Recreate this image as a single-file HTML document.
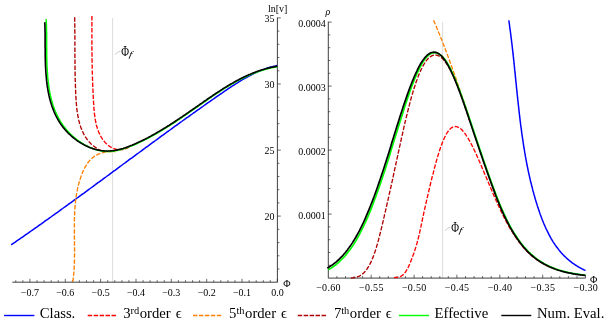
<!DOCTYPE html>
<html><head><meta charset="utf-8"><title>plot</title>
<style>
html,body{margin:0;padding:0;background:#fff;}
svg{display:block;font-family:"Liberation Serif",serif;will-change:transform;}
.t text{font-size:10px;fill:#000;}
.lg text{font-size:14.7px;fill:#000;}
.lb text{fill:#000;}
</style></head><body>
<svg width="610" height="326" viewBox="0 0 610 326">
<rect width="610" height="326" fill="#fff"/>
<g><line x1="112.6" y1="17.9" x2="112.6" y2="282.2" stroke="#d2d2d2" stroke-width="0.8"/><line x1="442.6" y1="22.1" x2="442.6" y2="278.1" stroke="#d2d2d2" stroke-width="0.8"/><path d="M115.0,54.7 C117,52.2 118.5,51.6 120.3,51.4" fill="none" stroke="#b0b0b0" stroke-width="0.7"/><path d="M445.0,230.7 C447,228.2 448.5,227.6 450.3,227.4" fill="none" stroke="#b0b0b0" stroke-width="0.7"/></g>
<g><line x1="12.3" y1="282.2" x2="277.4" y2="282.2" stroke="#2a2a2a" stroke-width="0.9"/><line x1="277.4" y1="282.2" x2="277.4" y2="17.5" stroke="#2a2a2a" stroke-width="0.9"/><line x1="15.8" y1="282.2" x2="15.8" y2="280.2" stroke="#2a2a2a" stroke-width="0.7"/><line x1="22.9" y1="282.2" x2="22.9" y2="280.2" stroke="#2a2a2a" stroke-width="0.7"/><line x1="29.9" y1="282.2" x2="29.9" y2="278.8" stroke="#2a2a2a" stroke-width="0.7"/><line x1="37.0" y1="282.2" x2="37.0" y2="280.2" stroke="#2a2a2a" stroke-width="0.7"/><line x1="44.1" y1="282.2" x2="44.1" y2="280.2" stroke="#2a2a2a" stroke-width="0.7"/><line x1="51.2" y1="282.2" x2="51.2" y2="280.2" stroke="#2a2a2a" stroke-width="0.7"/><line x1="58.2" y1="282.2" x2="58.2" y2="280.2" stroke="#2a2a2a" stroke-width="0.7"/><line x1="65.3" y1="282.2" x2="65.3" y2="278.8" stroke="#2a2a2a" stroke-width="0.7"/><line x1="72.4" y1="282.2" x2="72.4" y2="280.2" stroke="#2a2a2a" stroke-width="0.7"/><line x1="79.4" y1="282.2" x2="79.4" y2="280.2" stroke="#2a2a2a" stroke-width="0.7"/><line x1="86.5" y1="282.2" x2="86.5" y2="280.2" stroke="#2a2a2a" stroke-width="0.7"/><line x1="93.6" y1="282.2" x2="93.6" y2="280.2" stroke="#2a2a2a" stroke-width="0.7"/><line x1="100.6" y1="282.2" x2="100.6" y2="278.8" stroke="#2a2a2a" stroke-width="0.7"/><line x1="107.7" y1="282.2" x2="107.7" y2="280.2" stroke="#2a2a2a" stroke-width="0.7"/><line x1="114.8" y1="282.2" x2="114.8" y2="280.2" stroke="#2a2a2a" stroke-width="0.7"/><line x1="121.9" y1="282.2" x2="121.9" y2="280.2" stroke="#2a2a2a" stroke-width="0.7"/><line x1="128.9" y1="282.2" x2="128.9" y2="280.2" stroke="#2a2a2a" stroke-width="0.7"/><line x1="136.0" y1="282.2" x2="136.0" y2="278.8" stroke="#2a2a2a" stroke-width="0.7"/><line x1="143.1" y1="282.2" x2="143.1" y2="280.2" stroke="#2a2a2a" stroke-width="0.7"/><line x1="150.1" y1="282.2" x2="150.1" y2="280.2" stroke="#2a2a2a" stroke-width="0.7"/><line x1="157.2" y1="282.2" x2="157.2" y2="280.2" stroke="#2a2a2a" stroke-width="0.7"/><line x1="164.3" y1="282.2" x2="164.3" y2="280.2" stroke="#2a2a2a" stroke-width="0.7"/><line x1="171.3" y1="282.2" x2="171.3" y2="278.8" stroke="#2a2a2a" stroke-width="0.7"/><line x1="178.4" y1="282.2" x2="178.4" y2="280.2" stroke="#2a2a2a" stroke-width="0.7"/><line x1="185.5" y1="282.2" x2="185.5" y2="280.2" stroke="#2a2a2a" stroke-width="0.7"/><line x1="192.6" y1="282.2" x2="192.6" y2="280.2" stroke="#2a2a2a" stroke-width="0.7"/><line x1="199.6" y1="282.2" x2="199.6" y2="280.2" stroke="#2a2a2a" stroke-width="0.7"/><line x1="206.7" y1="282.2" x2="206.7" y2="278.8" stroke="#2a2a2a" stroke-width="0.7"/><line x1="213.8" y1="282.2" x2="213.8" y2="280.2" stroke="#2a2a2a" stroke-width="0.7"/><line x1="220.8" y1="282.2" x2="220.8" y2="280.2" stroke="#2a2a2a" stroke-width="0.7"/><line x1="227.9" y1="282.2" x2="227.9" y2="280.2" stroke="#2a2a2a" stroke-width="0.7"/><line x1="235.0" y1="282.2" x2="235.0" y2="280.2" stroke="#2a2a2a" stroke-width="0.7"/><line x1="242.0" y1="282.2" x2="242.0" y2="278.8" stroke="#2a2a2a" stroke-width="0.7"/><line x1="249.1" y1="282.2" x2="249.1" y2="280.2" stroke="#2a2a2a" stroke-width="0.7"/><line x1="256.2" y1="282.2" x2="256.2" y2="280.2" stroke="#2a2a2a" stroke-width="0.7"/><line x1="263.3" y1="282.2" x2="263.3" y2="280.2" stroke="#2a2a2a" stroke-width="0.7"/><line x1="270.3" y1="282.2" x2="270.3" y2="280.2" stroke="#2a2a2a" stroke-width="0.7"/><line x1="277.4" y1="282.2" x2="277.4" y2="278.8" stroke="#2a2a2a" stroke-width="0.7"/><line x1="277.4" y1="269.0" x2="279.4" y2="269.0" stroke="#2a2a2a" stroke-width="0.7"/><line x1="277.4" y1="255.8" x2="279.4" y2="255.8" stroke="#2a2a2a" stroke-width="0.7"/><line x1="277.4" y1="242.6" x2="279.4" y2="242.6" stroke="#2a2a2a" stroke-width="0.7"/><line x1="277.4" y1="229.3" x2="279.4" y2="229.3" stroke="#2a2a2a" stroke-width="0.7"/><line x1="277.4" y1="216.1" x2="280.8" y2="216.1" stroke="#2a2a2a" stroke-width="0.7"/><line x1="277.4" y1="202.9" x2="279.4" y2="202.9" stroke="#2a2a2a" stroke-width="0.7"/><line x1="277.4" y1="189.7" x2="279.4" y2="189.7" stroke="#2a2a2a" stroke-width="0.7"/><line x1="277.4" y1="176.5" x2="279.4" y2="176.5" stroke="#2a2a2a" stroke-width="0.7"/><line x1="277.4" y1="163.3" x2="279.4" y2="163.3" stroke="#2a2a2a" stroke-width="0.7"/><line x1="277.4" y1="150.1" x2="280.8" y2="150.1" stroke="#2a2a2a" stroke-width="0.7"/><line x1="277.4" y1="136.8" x2="279.4" y2="136.8" stroke="#2a2a2a" stroke-width="0.7"/><line x1="277.4" y1="123.6" x2="279.4" y2="123.6" stroke="#2a2a2a" stroke-width="0.7"/><line x1="277.4" y1="110.4" x2="279.4" y2="110.4" stroke="#2a2a2a" stroke-width="0.7"/><line x1="277.4" y1="97.2" x2="279.4" y2="97.2" stroke="#2a2a2a" stroke-width="0.7"/><line x1="277.4" y1="84.0" x2="280.8" y2="84.0" stroke="#2a2a2a" stroke-width="0.7"/><line x1="277.4" y1="70.8" x2="279.4" y2="70.8" stroke="#2a2a2a" stroke-width="0.7"/><line x1="277.4" y1="57.5" x2="279.4" y2="57.5" stroke="#2a2a2a" stroke-width="0.7"/><line x1="277.4" y1="44.3" x2="279.4" y2="44.3" stroke="#2a2a2a" stroke-width="0.7"/><line x1="277.4" y1="31.1" x2="279.4" y2="31.1" stroke="#2a2a2a" stroke-width="0.7"/><line x1="277.4" y1="17.9" x2="280.8" y2="17.9" stroke="#2a2a2a" stroke-width="0.7"/><line x1="328.3" y1="278.1" x2="585.5" y2="278.1" stroke="#2a2a2a" stroke-width="0.9"/><line x1="328.3" y1="278.1" x2="328.3" y2="21.7" stroke="#2a2a2a" stroke-width="0.9"/><line x1="336.9" y1="278.1" x2="336.9" y2="276.1" stroke="#2a2a2a" stroke-width="0.7"/><line x1="345.5" y1="278.1" x2="345.5" y2="276.1" stroke="#2a2a2a" stroke-width="0.7"/><line x1="354.0" y1="278.1" x2="354.0" y2="276.1" stroke="#2a2a2a" stroke-width="0.7"/><line x1="362.6" y1="278.1" x2="362.6" y2="276.1" stroke="#2a2a2a" stroke-width="0.7"/><line x1="371.2" y1="278.1" x2="371.2" y2="274.7" stroke="#2a2a2a" stroke-width="0.7"/><line x1="379.7" y1="278.1" x2="379.7" y2="276.1" stroke="#2a2a2a" stroke-width="0.7"/><line x1="388.3" y1="278.1" x2="388.3" y2="276.1" stroke="#2a2a2a" stroke-width="0.7"/><line x1="396.9" y1="278.1" x2="396.9" y2="276.1" stroke="#2a2a2a" stroke-width="0.7"/><line x1="405.5" y1="278.1" x2="405.5" y2="276.1" stroke="#2a2a2a" stroke-width="0.7"/><line x1="414.1" y1="278.1" x2="414.1" y2="274.7" stroke="#2a2a2a" stroke-width="0.7"/><line x1="422.6" y1="278.1" x2="422.6" y2="276.1" stroke="#2a2a2a" stroke-width="0.7"/><line x1="431.2" y1="278.1" x2="431.2" y2="276.1" stroke="#2a2a2a" stroke-width="0.7"/><line x1="439.8" y1="278.1" x2="439.8" y2="276.1" stroke="#2a2a2a" stroke-width="0.7"/><line x1="448.3" y1="278.1" x2="448.3" y2="276.1" stroke="#2a2a2a" stroke-width="0.7"/><line x1="456.9" y1="278.1" x2="456.9" y2="274.7" stroke="#2a2a2a" stroke-width="0.7"/><line x1="465.5" y1="278.1" x2="465.5" y2="276.1" stroke="#2a2a2a" stroke-width="0.7"/><line x1="474.1" y1="278.1" x2="474.1" y2="276.1" stroke="#2a2a2a" stroke-width="0.7"/><line x1="482.6" y1="278.1" x2="482.6" y2="276.1" stroke="#2a2a2a" stroke-width="0.7"/><line x1="491.2" y1="278.1" x2="491.2" y2="276.1" stroke="#2a2a2a" stroke-width="0.7"/><line x1="499.8" y1="278.1" x2="499.8" y2="274.7" stroke="#2a2a2a" stroke-width="0.7"/><line x1="508.4" y1="278.1" x2="508.4" y2="276.1" stroke="#2a2a2a" stroke-width="0.7"/><line x1="517.0" y1="278.1" x2="517.0" y2="276.1" stroke="#2a2a2a" stroke-width="0.7"/><line x1="525.5" y1="278.1" x2="525.5" y2="276.1" stroke="#2a2a2a" stroke-width="0.7"/><line x1="534.1" y1="278.1" x2="534.1" y2="276.1" stroke="#2a2a2a" stroke-width="0.7"/><line x1="542.7" y1="278.1" x2="542.7" y2="274.7" stroke="#2a2a2a" stroke-width="0.7"/><line x1="551.2" y1="278.1" x2="551.2" y2="276.1" stroke="#2a2a2a" stroke-width="0.7"/><line x1="559.8" y1="278.1" x2="559.8" y2="276.1" stroke="#2a2a2a" stroke-width="0.7"/><line x1="568.4" y1="278.1" x2="568.4" y2="276.1" stroke="#2a2a2a" stroke-width="0.7"/><line x1="577.0" y1="278.1" x2="577.0" y2="276.1" stroke="#2a2a2a" stroke-width="0.7"/><line x1="585.5" y1="278.1" x2="585.5" y2="274.7" stroke="#2a2a2a" stroke-width="0.7"/><line x1="328.3" y1="265.3" x2="330.3" y2="265.3" stroke="#2a2a2a" stroke-width="0.7"/><line x1="328.3" y1="252.5" x2="330.3" y2="252.5" stroke="#2a2a2a" stroke-width="0.7"/><line x1="328.3" y1="239.7" x2="330.3" y2="239.7" stroke="#2a2a2a" stroke-width="0.7"/><line x1="328.3" y1="226.9" x2="330.3" y2="226.9" stroke="#2a2a2a" stroke-width="0.7"/><line x1="328.3" y1="214.1" x2="331.7" y2="214.1" stroke="#2a2a2a" stroke-width="0.7"/><line x1="328.3" y1="201.3" x2="330.3" y2="201.3" stroke="#2a2a2a" stroke-width="0.7"/><line x1="328.3" y1="188.5" x2="330.3" y2="188.5" stroke="#2a2a2a" stroke-width="0.7"/><line x1="328.3" y1="175.7" x2="330.3" y2="175.7" stroke="#2a2a2a" stroke-width="0.7"/><line x1="328.3" y1="162.9" x2="330.3" y2="162.9" stroke="#2a2a2a" stroke-width="0.7"/><line x1="328.3" y1="150.1" x2="331.7" y2="150.1" stroke="#2a2a2a" stroke-width="0.7"/><line x1="328.3" y1="137.3" x2="330.3" y2="137.3" stroke="#2a2a2a" stroke-width="0.7"/><line x1="328.3" y1="124.5" x2="330.3" y2="124.5" stroke="#2a2a2a" stroke-width="0.7"/><line x1="328.3" y1="111.7" x2="330.3" y2="111.7" stroke="#2a2a2a" stroke-width="0.7"/><line x1="328.3" y1="98.9" x2="330.3" y2="98.9" stroke="#2a2a2a" stroke-width="0.7"/><line x1="328.3" y1="86.1" x2="331.7" y2="86.1" stroke="#2a2a2a" stroke-width="0.7"/><line x1="328.3" y1="73.3" x2="330.3" y2="73.3" stroke="#2a2a2a" stroke-width="0.7"/><line x1="328.3" y1="60.5" x2="330.3" y2="60.5" stroke="#2a2a2a" stroke-width="0.7"/><line x1="328.3" y1="47.7" x2="330.3" y2="47.7" stroke="#2a2a2a" stroke-width="0.7"/><line x1="328.3" y1="34.9" x2="330.3" y2="34.9" stroke="#2a2a2a" stroke-width="0.7"/><line x1="328.3" y1="22.1" x2="331.7" y2="22.1" stroke="#2a2a2a" stroke-width="0.7"/></g>
<g class="left">
<path d="M11.2,244.8 L12.5,243.9 L13.9,243.0 L15.2,242.1 L16.5,241.2 L17.9,240.2 L19.2,239.3 L20.5,238.4 L21.8,237.5 L23.2,236.6 L24.5,235.6 L25.8,234.7 L27.1,233.8 L28.5,232.9 L29.8,231.9 L31.1,231.0 L32.4,230.1 L33.8,229.2 L35.1,228.2 L36.4,227.3 L37.7,226.4 L39.0,225.4 L40.4,224.5 L41.7,223.6 L43.0,222.6 L44.3,221.7 L45.6,220.7 L46.9,219.8 L48.3,218.9 L49.6,217.9 L50.9,217.0 L52.2,216.0 L53.5,215.1 L54.8,214.2 L56.2,213.2 L57.5,212.3 L58.8,211.3 L60.1,210.4 L61.4,209.4 L62.7,208.5 L64.0,207.5 L65.3,206.6 L66.7,205.6 L68.0,204.7 L69.3,203.7 L70.6,202.8 L71.9,201.8 L73.2,200.9 L74.5,199.9 L75.8,199.0 L77.1,198.0 L78.4,197.1 L79.7,196.1 L81.1,195.2 L82.4,194.2 L83.7,193.3 L85.0,192.3 L86.3,191.4 L87.6,190.4 L88.9,189.4 L90.2,188.5 L91.5,187.5 L92.8,186.6 L94.1,185.6 L95.4,184.7 L96.7,183.7 L98.0,182.7 L99.3,181.8 L100.6,180.8 L102.0,179.9 L103.3,178.9 L104.6,177.9 L105.9,177.0 L107.2,176.0 L108.5,175.1 L109.8,174.1 L111.1,173.1 L112.4,172.2 L113.7,171.2 L115.0,170.3 L116.3,169.3 L117.6,168.3 L118.9,167.4 L120.2,166.4 L121.5,165.5 L122.8,164.5 L124.1,163.5 L125.4,162.6 L126.7,161.6 L128.0,160.7 L129.3,159.7 L130.6,158.7 L132.0,157.8 L133.3,156.8 L134.6,155.9 L135.9,154.9 L137.2,153.9 L138.5,153.0 L139.8,152.0 L141.1,151.1 L142.4,150.1 L143.7,149.1 L145.0,148.2 L146.3,147.2 L147.6,146.3 L148.9,145.3 L150.2,144.3 L151.5,143.4 L152.8,142.4 L154.2,141.5 L155.5,140.5 L156.8,139.6 L158.1,138.6 L159.4,137.7 L160.7,136.7 L162.0,135.7 L163.3,134.8 L164.6,133.8 L165.9,132.9 L167.2,131.9 L168.6,131.0 L169.9,130.0 L171.2,129.1 L172.5,128.1 L173.8,127.2 L175.1,126.2 L176.4,125.3 L177.7,124.3 L179.1,123.4 L180.4,122.4 L181.7,121.5 L183.0,120.5 L184.3,119.6 L185.6,118.7 L186.9,117.7 L188.3,116.8 L189.6,115.8 L190.9,114.9 L192.2,114.0 L193.5,113.0 L194.9,112.1 L196.2,111.1 L197.5,110.2 L198.8,109.3 L200.1,108.3 L201.5,107.4 L202.8,106.5 L204.1,105.5 L205.4,104.6 L206.7,103.7 L208.1,102.7 L209.4,101.8 L210.7,100.9 L212.1,99.9 L213.4,99.0 L214.7,98.1 L216.0,97.2 L217.4,96.2 L218.7,95.3 L220.0,94.4 L221.4,93.5 L222.7,92.6 L224.0,91.6 L225.4,90.7 L226.7,89.8 L228.0,88.9 L229.4,88.0 L230.7,87.1 L232.1,86.2 L233.4,85.4 L234.8,84.5 L236.1,83.6 L237.5,82.8 L238.9,81.9 L240.2,81.1 L241.6,80.2 L243.0,79.4 L244.4,78.6 L245.8,77.8 L247.2,77.1 L248.6,76.3 L250.0,75.6 L251.4,74.8 L252.9,74.1 L254.3,73.4 L255.7,72.7 L257.2,72.1 L258.7,71.4 L260.2,70.8 L261.6,70.2 L263.1,69.6 L264.6,69.1 L266.2,68.5 L267.7,68.0 L269.2,67.5 L270.8,67.1 L272.4,66.6 L273.9,66.2 L275.5,65.9 L277.1,65.5" fill="none" stroke="#0000ff" stroke-width="1.5" stroke-linejoin="round"/>
<path d="M91.9,16.0 L91.9,16.8 L91.9,17.6 L91.9,18.4 L91.9,19.2 L91.9,20.1 L91.9,20.9 L91.9,21.7 L91.9,22.5 L91.9,23.3 L91.9,24.1 L91.9,24.9 L91.9,25.7 L91.9,26.5 L91.9,27.3 L91.9,28.1 L91.9,28.9 L91.9,29.7 L91.9,30.5 L91.9,31.3 L91.9,32.1 L91.9,32.9 L91.9,33.7 L91.9,34.5 L91.9,35.3 L91.9,36.1 L91.9,36.9 L91.9,37.6 L91.9,38.4 L91.9,39.2 L91.9,40.0 L91.9,40.8 L91.9,41.6 L91.9,42.3 L91.9,43.1 L91.9,43.9 L91.9,44.7 L91.9,45.5 L91.9,46.2 L91.9,47.0 L91.9,47.8 L91.9,48.6 L91.9,49.3 L91.9,50.1 L91.9,50.9 L91.9,51.7 L91.9,52.4 L92.0,53.2 L92.0,54.0 L92.0,54.8 L92.0,55.5 L92.0,56.3 L92.0,57.1 L92.0,57.8 L92.0,58.6 L92.0,59.4 L92.1,60.2 L92.1,60.9 L92.1,61.7 L92.1,62.5 L92.1,63.2 L92.1,64.0 L92.1,64.8 L92.2,65.6 L92.2,66.3 L92.2,67.1 L92.2,67.9 L92.2,68.6 L92.2,69.4 L92.3,70.2 L92.3,71.0 L92.3,71.7 L92.3,72.5 L92.3,73.3 L92.4,74.1 L92.4,74.8 L92.4,75.6 L92.4,76.4 L92.5,77.2 L92.5,77.9 L92.5,78.7 L92.5,79.5 L92.6,80.3 L92.6,81.1 L92.6,81.9 L92.6,82.6 L92.7,83.4 L92.7,84.2 L92.7,85.0 L92.8,85.8 L92.8,86.6 L92.8,87.4 L92.9,88.2 L92.9,88.9 L92.9,89.7 L93.0,90.5 L93.0,91.3 L93.0,92.1 L93.1,92.9 L93.1,93.7 L93.1,94.5 L93.2,95.3 L93.2,96.1 L93.3,96.9 L93.3,97.8 L93.3,98.6 L93.4,99.4 L93.4,100.2 L93.5,101.0 L93.5,101.8 L93.6,102.6 L93.6,103.4 L93.7,104.3 L93.7,105.1 L93.8,105.9 L93.8,106.7 L93.9,107.5 L93.9,108.4 L94.0,109.2 L94.1,110.0 L94.2,110.8 L94.2,111.6 L94.3,112.4 L94.4,113.2 L94.5,114.1 L94.6,114.9 L94.7,115.7 L94.8,116.5 L94.9,117.3 L95.0,118.1 L95.2,118.9 L95.3,119.7 L95.4,120.4 L95.6,121.2 L95.7,122.0 L95.9,122.8 L96.1,123.5 L96.3,124.3 L96.4,125.1 L96.6,125.8 L96.8,126.6 L97.1,127.3 L97.3,128.1 L97.5,128.8 L97.8,129.5 L98.0,130.2 L98.3,131.0 L98.6,131.7 L98.8,132.4 L99.1,133.0 L99.4,133.7 L99.8,134.4 L100.1,135.1 L100.4,135.7 L100.8,136.4 L101.2,137.0 L101.6,137.7 L102.0,138.3 L102.4,138.9 L102.8,139.5 L103.2,140.1 L103.7,140.7 L104.2,141.3 L104.6,141.8 L105.1,142.4 L105.7,142.9 L106.2,143.5 L106.7,144.0 L107.3,144.5 L107.9,145.0 L108.5,145.5 L109.1,145.9 L109.7,146.4 L110.3,146.8 L111.0,147.2 L111.6,147.6 L112.3,147.9 L113.0,148.2 L113.7,148.5 L114.4,148.8 L115.1,149.0 L115.8,149.2 L116.6,149.4 L117.3,149.5 L118.1,149.6 L118.9,149.7 L119.7,149.7 L120.4,149.7 L121.2,149.7 L122.0,149.6 L122.8,149.5 L123.7,149.3 L124.5,149.1 L125.3,148.8 L126.1,148.5 L126.9,148.2 L127.7,147.8 L128.6,147.4 L129.4,146.9 L130.2,146.3" fill="none" stroke="#ff0000" stroke-width="1.35" stroke-dasharray="4.45 1.6" stroke-linejoin="round"/>
<path d="M72.8,281.9 L72.9,281.1 L73.0,280.4 L73.1,279.6 L73.2,278.9 L73.3,278.2 L73.4,277.4 L73.4,276.7 L73.5,275.9 L73.6,275.2 L73.7,274.4 L73.7,273.7 L73.8,272.9 L73.9,272.2 L73.9,271.4 L74.0,270.7 L74.0,269.9 L74.1,269.2 L74.1,268.4 L74.2,267.6 L74.2,266.9 L74.3,266.1 L74.3,265.4 L74.3,264.6 L74.4,263.8 L74.4,263.1 L74.4,262.3 L74.4,261.6 L74.4,260.8 L74.5,260.0 L74.5,259.3 L74.5,258.5 L74.5,257.7 L74.5,257.0 L74.5,256.2 L74.5,255.4 L74.5,254.7 L74.6,253.9 L74.6,253.1 L74.6,252.4 L74.6,251.6 L74.6,250.8 L74.6,250.1 L74.6,249.3 L74.6,248.5 L74.5,247.7 L74.5,247.0 L74.5,246.2 L74.5,245.4 L74.5,244.7 L74.5,243.9 L74.5,243.1 L74.5,242.3 L74.5,241.6 L74.5,240.8 L74.5,240.0 L74.5,239.2 L74.4,238.5 L74.4,237.7 L74.4,236.9 L74.4,236.1 L74.4,235.4 L74.4,234.6 L74.4,233.8 L74.4,233.0 L74.4,232.3 L74.4,231.5 L74.4,230.7 L74.4,229.9 L74.4,229.2 L74.4,228.4 L74.4,227.6 L74.4,226.8 L74.4,226.1 L74.4,225.3 L74.4,224.5 L74.4,223.7 L74.4,223.0 L74.4,222.2 L74.4,221.4 L74.4,220.7 L74.4,219.9 L74.4,219.1 L74.5,218.3 L74.5,217.6 L74.5,216.8 L74.5,216.0 L74.6,215.3 L74.6,214.5 L74.6,213.7 L74.7,213.0 L74.7,212.2 L74.7,211.4 L74.8,210.7 L74.8,209.9 L74.9,209.1 L74.9,208.4 L75.0,207.6 L75.0,206.8 L75.1,206.1 L75.2,205.3 L75.2,204.5 L75.3,203.8 L75.4,203.0 L75.4,202.3 L75.5,201.5 L75.6,200.7 L75.7,200.0 L75.8,199.2 L75.9,198.5 L76.0,197.7 L76.1,197.0 L76.2,196.2 L76.3,195.5 L76.4,194.7 L76.6,194.0 L76.7,193.2 L76.8,192.5 L77.0,191.7 L77.1,191.0 L77.3,190.2 L77.4,189.5 L77.6,188.7 L77.7,188.0 L77.9,187.3 L78.1,186.5 L78.2,185.8 L78.4,185.0 L78.6,184.3 L78.8,183.6 L79.0,182.8 L79.2,182.1 L79.4,181.4 L79.6,180.6 L79.9,179.9 L80.1,179.2 L80.3,178.5 L80.6,177.7 L80.8,177.0 L81.1,176.3 L81.3,175.6 L81.6,174.8 L81.9,174.1 L82.2,173.4 L82.4,172.7 L82.7,172.0 L83.0,171.3 L83.4,170.6 L83.7,169.9 L84.0,169.2 L84.4,168.5 L84.7,167.9 L85.1,167.2 L85.4,166.6 L85.8,165.9 L86.2,165.3 L86.6,164.6 L87.0,164.0 L87.4,163.4 L87.9,162.8 L88.3,162.2 L88.8,161.6 L89.2,161.1 L89.7,160.5 L90.2,160.0 L90.7,159.5 L91.2,159.0 L91.8,158.5 L92.3,158.0 L92.9,157.5 L93.5,157.1 L94.0,156.6 L94.7,156.2 L95.3,155.8 L95.9,155.4 L96.6,155.1 L97.2,154.7 L97.9,154.4 L98.6,154.1 L99.3,153.8 L100.0,153.5 L100.7,153.2 L101.5,153.0 L102.2,152.8 L103.0,152.6 L103.7,152.4 L104.5,152.2 L105.3,152.1 L106.1,152.0 L106.9,151.8 L107.7,151.7 L108.6,151.7 L109.4,151.6 L110.3,151.6 L111.1,151.6 L112.0,151.6 L112.8,151.6 L113.7,151.6 L114.6,151.7 L115.5,151.8" fill="none" stroke="#ff8000" stroke-width="1.35" stroke-dasharray="4.45 1.6" stroke-linejoin="round"/>
<path d="M74.7,17.2 L74.7,17.9 L74.7,18.7 L74.7,19.4 L74.7,20.2 L74.7,20.9 L74.7,21.6 L74.7,22.4 L74.8,23.1 L74.8,23.9 L74.8,24.6 L74.8,25.4 L74.8,26.1 L74.8,26.8 L74.8,27.6 L74.8,28.3 L74.8,29.0 L74.8,29.8 L74.8,30.5 L74.8,31.3 L74.9,32.0 L74.9,32.7 L74.9,33.5 L74.9,34.2 L74.9,34.9 L74.9,35.7 L74.9,36.4 L74.9,37.1 L74.9,37.8 L74.9,38.6 L74.9,39.3 L74.9,40.0 L74.9,40.8 L74.9,41.5 L74.9,42.2 L74.9,42.9 L74.9,43.7 L74.9,44.4 L74.9,45.1 L74.9,45.8 L74.9,46.6 L74.9,47.3 L74.9,48.0 L74.9,48.7 L74.9,49.5 L74.9,50.2 L74.9,50.9 L74.9,51.6 L74.9,52.4 L74.9,53.1 L74.9,53.8 L74.9,54.5 L74.9,55.3 L74.9,56.0 L74.9,56.7 L74.9,57.4 L74.9,58.2 L75.0,58.9 L75.0,59.6 L75.0,60.3 L75.0,61.1 L75.0,61.8 L75.0,62.5 L75.0,63.3 L75.0,64.0 L75.0,64.7 L75.0,65.4 L75.0,66.2 L75.0,66.9 L75.0,67.6 L75.0,68.3 L75.0,69.1 L75.1,69.8 L75.1,70.5 L75.1,71.3 L75.1,72.0 L75.1,72.7 L75.1,73.5 L75.1,74.2 L75.1,74.9 L75.1,75.7 L75.2,76.4 L75.2,77.1 L75.2,77.9 L75.2,78.6 L75.2,79.3 L75.2,80.1 L75.3,80.8 L75.3,81.6 L75.3,82.3 L75.3,83.0 L75.4,83.8 L75.4,84.5 L75.4,85.3 L75.4,86.0 L75.5,86.8 L75.5,87.5 L75.5,88.3 L75.5,89.0 L75.6,89.8 L75.6,90.5 L75.6,91.3 L75.7,92.0 L75.7,92.8 L75.7,93.5 L75.8,94.3 L75.8,95.0 L75.8,95.8 L75.9,96.6 L75.9,97.3 L76.0,98.1 L76.0,98.8 L76.1,99.6 L76.1,100.3 L76.2,101.1 L76.2,101.9 L76.3,102.6 L76.3,103.4 L76.4,104.1 L76.5,104.9 L76.5,105.7 L76.6,106.4 L76.7,107.2 L76.8,107.9 L76.8,108.7 L76.9,109.4 L77.0,110.2 L77.1,110.9 L77.2,111.7 L77.3,112.4 L77.4,113.1 L77.6,113.9 L77.7,114.6 L77.8,115.3 L77.9,116.1 L78.1,116.8 L78.2,117.5 L78.4,118.3 L78.5,119.0 L78.7,119.7 L78.8,120.4 L79.0,121.1 L79.2,121.8 L79.4,122.5 L79.5,123.2 L79.7,123.9 L79.9,124.6 L80.2,125.3 L80.4,126.0 L80.6,126.6 L80.8,127.3 L81.1,128.0 L81.3,128.6 L81.6,129.3 L81.8,129.9 L82.1,130.6 L82.4,131.2 L82.7,131.9 L83.0,132.5 L83.3,133.1 L83.6,133.7 L83.9,134.4 L84.3,135.0 L84.6,135.6 L84.9,136.2 L85.3,136.7 L85.7,137.3 L86.1,137.9 L86.5,138.5 L86.9,139.0 L87.3,139.6 L87.7,140.1 L88.1,140.7 L88.6,141.2 L89.0,141.7 L89.5,142.2 L90.0,142.7 L90.4,143.2 L90.9,143.7 L91.4,144.2 L92.0,144.7 L92.5,145.1 L93.0,145.6 L93.6,146.0 L94.2,146.5 L94.8,146.9 L95.3,147.3 L96.0,147.7 L96.6,148.2 L97.2,148.5 L97.9,148.9 L98.5,149.3 L99.2,149.7 L99.9,150.0 L100.6,150.4 L101.3,150.7 L102.0,151.0 L102.8,151.3 L103.5,151.6 L104.3,151.9" fill="none" stroke="#b00000" stroke-width="1.35" stroke-dasharray="4.45 1.6" stroke-linejoin="round"/>
<path d="M46.1,19.1 L46.3,23.2 L46.4,24.3 L46.4,25.4 L46.4,26.6 L46.5,27.7 L46.5,28.8 L46.5,29.9 L46.5,31.1 L46.6,32.2 L46.6,33.4 L46.6,34.5 L46.6,35.7 L46.6,36.8 L46.6,38.0 L46.6,39.2 L46.6,40.3 L46.6,41.5 L46.6,42.7 L46.6,43.9 L46.6,45.0 L46.6,46.2 L46.6,47.4 L46.7,48.6 L46.7,49.8 L46.7,51.0 L46.7,52.2 L46.7,53.4 L46.7,54.6 L46.7,55.8 L46.7,57.0 L46.8,58.2 L46.8,59.4 L46.8,60.6 L46.9,61.8 L46.9,63.0 L46.9,64.2 L47.0,65.4 L47.0,66.6 L47.1,67.8 L47.2,69.0 L47.2,70.2 L47.3,71.4 L47.4,72.6 L47.5,73.8 L47.6,75.0 L47.6,76.2 L47.7,77.4 L47.9,78.6 L48.0,79.8 L48.1,81.0 L48.2,82.1 L48.4,83.3 L48.5,84.5 L48.7,85.7 L48.8,86.8 L49.0,88.0 L49.2,89.2 L49.4,90.3 L49.6,91.5 L49.8,92.6 L50.0,93.8 L50.3,94.9 L50.5,96.0 L50.8,97.2 L51.0,98.3 L51.3,99.4 L51.6,100.5 L51.9,101.6 L52.3,102.7 L52.6,103.8 L52.9,104.9 L53.3,106.0 L53.7,107.1 L54.1,108.1 L54.5,109.2 L54.9,110.2 L55.3,111.3 L55.8,112.3 L56.2,113.4 L56.7,114.4 L57.2,115.4 L57.7,116.4 L58.2,117.4 L58.7,118.4 L59.3,119.4 L59.8,120.4 L60.4,121.4 L61.0,122.3 L61.6,123.3 L62.3,124.2 L62.9,125.2 L63.6,126.1 L64.3,127.0 L65.0,127.9 L65.7,128.8 L66.5,129.7 L67.2,130.6 L68.0,131.5 L68.8,132.3 L69.6,133.2 L70.5,134.0 L71.3,134.9 L72.2,135.7 L73.1,136.5 L74.0,137.3 L74.9,138.1 L75.9,138.8 L76.8,139.6 L77.8,140.3 L78.8,141.0 L79.8,141.7 L80.8,142.4 L81.8,143.0 L82.8,143.6 L83.9,144.3 L84.9,144.8 L86.0,145.4 L87.1,146.0 L88.1,146.5 L89.2,147.1 L90.3,147.6 L91.4,148.0 L92.5,148.5 L93.6,148.9 L94.7,149.3 L95.9,149.7 L97.0,150.0 L98.1,150.3 L99.3,150.6 L100.4,150.8 L101.6,151.0 L102.7,151.2 L103.9,151.3 L105.1,151.4 L106.2,151.5 L107.4,151.5 L108.5,151.5 L109.7,151.4 L110.8,151.4 L112.0,151.3 L113.1,151.2 L114.3,151.0 L115.4,150.8 L116.6,150.6 L117.7,150.4 L118.8,150.1 L120.0,149.8 L121.1,149.5 L122.2,149.2 L123.3,148.9 L124.5,148.5 L125.6,148.1 L126.7,147.8 L127.8,147.4 L128.9,146.9 L130.0,146.5 L131.1,146.1 L132.2,145.6 L133.3,145.2 L134.4,144.7 L135.5,144.2 L136.6,143.7 L137.7,143.2 L138.7,142.8 L139.8,142.2 L140.9,141.7 L141.9,141.2 L143.0,140.7 L144.1,140.2 L145.1,139.6 L146.2,139.1 L147.2,138.6 L148.3,138.0 L149.3,137.5 L150.4,136.9 L151.4,136.3 L152.4,135.8 L153.5,135.2 L154.5,134.6 L155.5,134.0 L156.5,133.5 L157.6,132.9 L158.6,132.3 L159.6,131.7 L160.6,131.1 L161.6,130.5 L162.7,129.9 L163.7,129.2 L164.7,128.6 L165.7,128.0 L166.7,127.4 L167.7,126.7 L168.7,126.1 L169.7,125.5 L170.7,124.8 L171.7,124.2 L172.7,123.6 L173.7,122.9 L174.7,122.3 L175.6,121.6 L176.6,121.0 L177.6,120.3 L178.6,119.6 L179.6,119.0 L180.6,118.3 L181.6,117.7 L182.5,117.0 L183.5,116.3 L184.5,115.7 L185.5,115.0 L186.5,114.3 L187.4,113.6 L188.4,113.0 L189.4,112.3 L190.4,111.6 L191.3,110.9 L192.3,110.3 L193.3,109.6 L194.3,108.9 L195.2,108.2 L196.2,107.6 L197.2,106.9 L198.2,106.2 L199.1,105.5 L200.1,104.8 L201.1,104.2 L202.1,103.5 L203.0,102.8 L204.0,102.1 L205.0,101.4 L206.0,100.8 L206.9,100.1 L207.9,99.4 L208.9,98.7 L209.9,98.1 L210.9,97.4 L211.8,96.7 L212.8,96.1 L213.8,95.4 L214.8,94.7 L215.8,94.1 L216.8,93.4 L217.8,92.8 L218.7,92.1 L219.7,91.5 L220.7,90.8 L221.7,90.2 L222.7,89.6 L223.7,88.9 L224.7,88.3 L225.7,87.7 L226.7,87.1 L227.7,86.5 L228.7,85.9 L229.7,85.3 L230.8,84.7 L231.8,84.1 L232.8,83.5 L233.8,82.9 L234.8,82.3 L235.8,81.8 L236.9,81.2 L237.9,80.7 L238.9,80.1 L240.0,79.6 L241.0,79.0 L242.0,78.5 L243.1,78.0 L244.1,77.5 L245.2,77.0 L246.2,76.5 L247.3,76.0 L248.4,75.5 L249.4,75.1 L250.5,74.6 L251.6,74.2 L252.6,73.7 L253.7,73.3 L254.8,72.9 L255.9,72.5 L257.0,72.1 L258.1,71.7 L259.2,71.3 L260.3,70.9 L261.4,70.6 L262.5,70.2 L263.6,69.9 L264.7,69.5 L265.8,69.2 L267.0,68.9 L268.1,68.6 L269.2,68.4 L270.4,68.1 L271.5,67.8 L272.7,67.6 L273.8,67.4 L275.0,67.1 L276.2,66.9 L277.3,66.7" fill="none" stroke="#00ff00" stroke-width="1.5" stroke-linejoin="round"/>
<path d="M44.8,22.2 L44.8,23.3 L44.9,24.4 L44.9,25.5 L44.9,26.6 L45.0,27.7 L45.0,28.8 L45.0,30.0 L45.0,31.1 L45.1,32.2 L45.1,33.4 L45.1,34.5 L45.1,35.7 L45.1,36.8 L45.1,38.0 L45.1,39.2 L45.1,40.3 L45.1,41.5 L45.1,42.7 L45.1,43.9 L45.1,45.1 L45.1,46.2 L45.1,47.4 L45.2,48.6 L45.2,49.8 L45.2,51.0 L45.2,52.2 L45.2,53.4 L45.2,54.6 L45.2,55.8 L45.2,57.0 L45.3,58.2 L45.3,59.4 L45.3,60.6 L45.4,61.9 L45.4,63.1 L45.4,64.3 L45.5,65.5 L45.5,66.7 L45.6,67.9 L45.7,69.1 L45.7,70.3 L45.8,71.5 L45.9,72.7 L46.0,73.9 L46.1,75.1 L46.2,76.3 L46.3,77.5 L46.4,78.7 L46.5,79.9 L46.6,81.1 L46.8,82.3 L46.9,83.5 L47.1,84.7 L47.2,85.9 L47.4,87.0 L47.6,88.2 L47.8,89.4 L48.0,90.6 L48.2,91.7 L48.4,92.9 L48.7,94.0 L48.9,95.2 L49.2,96.3 L49.4,97.5 L49.7,98.6 L50.0,99.8 L50.3,100.9 L50.6,102.0 L51.0,103.1 L51.3,104.2 L51.7,105.3 L52.0,106.4 L52.4,107.5 L52.8,108.6 L53.2,109.7 L53.7,110.7 L54.1,111.8 L54.6,112.9 L55.0,113.9 L55.5,115.0 L56.0,116.0 L56.5,117.0 L57.1,118.0 L57.6,119.0 L58.2,120.0 L58.8,121.0 L59.4,122.0 L60.0,123.0 L60.7,123.9 L61.3,124.9 L62.0,125.8 L62.7,126.8 L63.4,127.7 L64.2,128.6 L64.9,129.5 L65.7,130.4 L66.5,131.3 L67.3,132.1 L68.1,133.0 L69.0,133.9 L69.9,134.7 L70.8,135.5 L71.7,136.3 L72.6,137.1 L73.5,137.9 L74.5,138.6 L75.5,139.4 L76.4,140.1 L77.4,140.8 L78.4,141.5 L79.5,142.2 L80.5,142.8 L81.5,143.4 L82.6,144.1 L83.7,144.6 L84.7,145.2 L85.8,145.8 L86.9,146.3 L88.0,146.8 L89.1,147.2 L90.2,147.7 L91.4,148.1 L92.5,148.5 L93.6,148.9 L94.8,149.2 L95.9,149.5 L97.0,149.8 L98.2,150.1 L99.3,150.3 L100.5,150.5 L101.6,150.7 L102.8,150.8 L103.9,150.9 L105.1,151.0 L106.2,151.0 L107.4,151.1 L108.5,151.0 L109.6,151.0 L110.8,150.9 L111.9,150.8 L113.1,150.7 L114.2,150.5 L115.3,150.3 L116.5,150.1 L117.6,149.9 L118.7,149.6 L119.8,149.3 L121.0,149.0 L122.1,148.7 L123.2,148.4 L124.3,148.0 L125.4,147.7 L126.5,147.3 L127.6,146.9 L128.7,146.5 L129.8,146.1 L130.9,145.6 L132.0,145.2 L133.1,144.7 L134.2,144.2 L135.3,143.8 L136.4,143.3 L137.4,142.8 L138.5,142.3 L139.6,141.8 L140.7,141.3 L141.7,140.8 L142.8,140.3 L143.8,139.7 L144.9,139.2 L145.9,138.7 L147.0,138.1 L148.0,137.6 L149.1,137.0 L150.1,136.5 L151.2,135.9 L152.2,135.3 L153.2,134.8 L154.2,134.2 L155.3,133.6 L156.3,133.0 L157.3,132.4 L158.3,131.8 L159.4,131.2 L160.4,130.6 L161.4,130.0 L162.4,129.4 L163.4,128.8 L164.4,128.2 L165.4,127.6 L166.4,127.0 L167.4,126.3 L168.4,125.7 L169.4,125.1 L170.4,124.4 L171.4,123.8 L172.4,123.1 L173.4,122.5 L174.4,121.8 L175.4,121.2 L176.4,120.5 L177.3,119.9 L178.3,119.2 L179.3,118.6 L180.3,117.9 L181.3,117.3 L182.3,116.6 L183.2,115.9 L184.2,115.3 L185.2,114.6 L186.2,113.9 L187.2,113.2 L188.1,112.6 L189.1,111.9 L190.1,111.2 L191.1,110.5 L192.0,109.9 L193.0,109.2 L194.0,108.5 L195.0,107.8 L195.9,107.1 L196.9,106.5 L197.9,105.8 L198.9,105.1 L199.8,104.4 L200.8,103.7 L201.8,103.1 L202.8,102.4 L203.7,101.7 L204.7,101.0 L205.7,100.4 L206.7,99.7 L207.6,99.0 L208.6,98.3 L209.6,97.7 L210.6,97.0 L211.6,96.3 L212.5,95.7 L213.5,95.0 L214.5,94.3 L215.5,93.7 L216.5,93.0 L217.5,92.4 L218.5,91.7 L219.5,91.1 L220.5,90.4 L221.5,89.8 L222.4,89.2 L223.4,88.5 L224.4,87.9 L225.5,87.3 L226.5,86.7 L227.5,86.0 L228.5,85.4 L229.5,84.8 L230.5,84.2 L231.5,83.6 L232.5,83.1 L233.6,82.5 L234.6,81.9 L235.6,81.3 L236.6,80.8 L237.7,80.2 L238.7,79.7 L239.7,79.1 L240.8,78.6 L241.8,78.1 L242.9,77.6 L243.9,77.0 L245.0,76.5 L246.0,76.1 L247.1,75.6 L248.1,75.1 L249.2,74.6 L250.3,74.2 L251.4,73.7 L252.4,73.3 L253.5,72.8 L254.6,72.4 L255.7,72.0 L256.8,71.6 L257.9,71.2 L259.0,70.8 L260.1,70.4 L261.2,70.1 L262.3,69.7 L263.4,69.4 L264.6,69.1 L265.7,68.7 L266.8,68.4 L268.0,68.1 L269.1,67.9 L270.3,67.6 L271.4,67.3 L272.6,67.1 L273.7,66.9 L274.9,66.6 L276.1,66.4 L277.3,66.2" fill="none" stroke="#000" stroke-width="1.6" stroke-linejoin="round"/>
</g>
<g class="right">
<path d="M508.8,20.3 L509.0,21.7 L509.2,23.0 L509.4,24.3 L509.6,25.6 L509.7,26.9 L509.9,28.3 L510.1,29.6 L510.3,30.9 L510.5,32.3 L510.6,33.6 L510.8,34.9 L511.0,36.3 L511.1,37.6 L511.3,38.9 L511.5,40.3 L511.6,41.6 L511.8,43.0 L512.0,44.3 L512.1,45.6 L512.3,47.0 L512.4,48.3 L512.6,49.7 L512.7,51.0 L512.9,52.4 L513.0,53.7 L513.2,55.1 L513.3,56.4 L513.5,57.8 L513.6,59.1 L513.8,60.5 L513.9,61.8 L514.0,63.2 L514.2,64.5 L514.3,65.9 L514.5,67.2 L514.6,68.6 L514.7,69.9 L514.9,71.3 L515.0,72.7 L515.2,74.0 L515.3,75.4 L515.4,76.7 L515.6,78.1 L515.7,79.5 L515.8,80.8 L516.0,82.2 L516.1,83.5 L516.3,84.9 L516.4,86.3 L516.5,87.6 L516.7,89.0 L516.8,90.3 L517.0,91.7 L517.1,93.1 L517.2,94.4 L517.4,95.8 L517.5,97.2 L517.7,98.5 L517.8,99.9 L518.0,101.2 L518.1,102.6 L518.3,104.0 L518.4,105.3 L518.6,106.7 L518.7,108.1 L518.9,109.4 L519.0,110.8 L519.2,112.1 L519.3,113.5 L519.5,114.9 L519.6,116.2 L519.8,117.6 L520.0,119.0 L520.1,120.3 L520.3,121.7 L520.5,123.0 L520.6,124.4 L520.8,125.8 L521.0,127.1 L521.2,128.5 L521.4,129.8 L521.5,131.2 L521.7,132.6 L521.9,133.9 L522.1,135.3 L522.3,136.6 L522.5,138.0 L522.7,139.3 L522.9,140.7 L523.1,142.0 L523.3,143.4 L523.5,144.8 L523.7,146.1 L523.9,147.5 L524.2,148.8 L524.4,150.2 L524.6,151.5 L524.8,152.9 L525.1,154.2 L525.3,155.6 L525.5,156.9 L525.8,158.2 L526.0,159.6 L526.3,160.9 L526.5,162.3 L526.8,163.6 L527.0,165.0 L527.3,166.3 L527.6,167.6 L527.9,169.0 L528.1,170.3 L528.4,171.6 L528.7,173.0 L529.0,174.3 L529.3,175.6 L529.6,177.0 L529.9,178.3 L530.2,179.6 L530.5,181.0 L530.8,182.3 L531.2,183.6 L531.5,184.9 L531.8,186.3 L532.2,187.6 L532.5,188.9 L532.8,190.2 L533.2,191.5 L533.6,192.8 L533.9,194.2 L534.3,195.5 L534.7,196.8 L535.0,198.1 L535.4,199.4 L535.8,200.7 L536.2,202.0 L536.6,203.3 L537.0,204.6 L537.4,205.9 L537.9,207.2 L538.3,208.5 L538.7,209.8 L539.1,211.1 L539.6,212.4 L540.0,213.7 L540.5,215.0 L541.0,216.2 L541.4,217.5 L541.9,218.8 L542.4,220.1 L542.9,221.3 L543.4,222.6 L543.9,223.8 L544.5,225.1 L545.0,226.3 L545.6,227.6 L546.1,228.8 L546.7,230.0 L547.3,231.2 L547.9,232.4 L548.5,233.6 L549.1,234.8 L549.7,236.0 L550.4,237.2 L551.0,238.3 L551.7,239.5 L552.4,240.6 L553.1,241.8 L553.8,242.9 L554.6,244.0 L555.3,245.1 L556.1,246.2 L556.9,247.3 L557.7,248.3 L558.5,249.4 L559.3,250.4 L560.2,251.5 L561.0,252.5 L561.9,253.5 L562.8,254.5 L563.8,255.4 L564.7,256.4 L565.7,257.3 L566.7,258.2 L567.7,259.1 L568.7,260.0 L569.7,260.9 L570.8,261.7 L571.9,262.6 L573.0,263.4 L574.2,264.2 L575.3,265.0 L576.5,265.7 L577.7,266.5 L578.9,267.2 L580.2,267.9 L581.5,268.6 L582.8,269.3 L584.1,269.9 L585.5,270.5" fill="none" stroke="#0000ff" stroke-width="1.5" stroke-linejoin="round"/>
<path d="M394.0,277.6 L394.6,277.6 L395.2,277.5 L395.8,277.5 L396.4,277.4 L397.0,277.4 L397.6,277.3 L398.2,277.1 L398.8,277.0 L399.4,276.8 L400.0,276.6 L400.6,276.4 L401.2,276.1 L401.8,275.7 L402.4,275.3 L403.0,274.9 L403.6,274.3 L404.2,273.7 L404.8,273.0 L405.4,272.1 L406.0,271.2 L406.6,270.2 L407.3,269.1 L407.9,268.0 L408.5,266.7 L409.1,265.4 L409.7,264.0 L410.3,262.5 L410.9,261.0 L411.5,259.4 L412.1,257.9 L412.7,256.3 L413.3,254.6 L413.9,253.0 L414.5,251.2 L415.1,249.4 L415.7,247.6 L416.3,245.6 L416.9,243.6 L417.5,241.4 L418.1,239.1 L418.7,236.6 L419.3,234.1 L419.9,231.4 L420.5,228.6 L421.1,225.8 L421.7,222.9 L422.3,220.0 L422.9,217.1 L423.5,214.3 L424.1,211.5 L424.7,208.8 L425.3,206.1 L425.9,203.5 L426.5,200.9 L427.1,198.3 L427.7,195.7 L428.3,193.1 L428.9,190.6 L429.5,188.0 L430.1,185.5 L430.7,183.0 L431.3,180.5 L431.9,178.0 L432.5,175.6 L433.2,173.2 L433.8,170.8 L434.4,168.5 L435.0,166.2 L435.6,164.0 L436.2,161.8 L436.8,159.6 L437.4,157.6 L438.0,155.5 L438.6,153.6 L439.2,151.6 L439.8,149.8 L440.4,148.0 L441.0,146.3 L441.6,144.7 L442.2,143.1 L442.8,141.6 L443.4,140.1 L444.0,138.8 L444.6,137.5 L445.2,136.2 L445.8,135.1 L446.4,134.0 L447.0,133.0 L447.6,132.1 L448.2,131.2 L448.8,130.5 L449.4,129.8 L450.0,129.1 L450.6,128.6 L451.2,128.1 L451.8,127.6 L452.4,127.3 L453.0,127.0 L453.6,126.8 L454.2,126.6 L454.8,126.6 L455.4,126.5 L456.0,126.6 L456.6,126.7 L457.2,126.8 L457.8,127.1 L458.4,127.3 L459.1,127.7 L459.7,128.1 L460.3,128.5 L460.9,129.0 L461.5,129.5 L462.1,130.1 L462.7,130.8 L463.3,131.4 L463.9,132.2 L464.5,132.9 L465.1,133.7 L465.7,134.6 L466.3,135.5 L466.9,136.4 L467.5,137.3 L468.1,138.3 L468.7,139.4 L469.3,140.4 L469.9,141.5 L470.5,142.6 L471.1,143.7 L471.7,144.9 L472.3,146.0 L472.9,147.2 L473.5,148.5 L474.1,149.7 L474.7,151.0 L475.3,152.3 L475.9,153.6 L476.5,154.9 L477.1,156.2 L477.7,157.5 L478.3,158.9 L478.9,160.3 L479.5,161.6 L480.1,163.0 L480.7,164.4 L481.3,165.8 L481.9,167.2 L482.5,168.7 L483.1,170.1 L483.7,171.5 L484.3,172.9 L484.9,174.4 L485.6,175.8 L486.2,177.3 L486.8,178.7 L487.4,180.1 L488.0,181.6 L488.6,183.0 L489.2,184.4 L489.8,185.9 L490.4,187.3 L491.0,188.7 L491.6,190.1 L492.2,191.5 L492.8,192.9 L493.4,194.3 L494.0,195.7 L494.6,197.1 L495.2,198.5 L495.8,199.8 L496.4,201.2 L497.0,202.5 L497.6,203.8 L498.2,205.1 L498.8,206.5 L499.4,207.7 L500.0,209.0 L500.6,210.3 L501.2,211.6 L501.8,212.8 L502.4,214.0 L503.0,215.2 L503.6,216.4 L504.2,217.6 L504.8,218.8 L505.4,220.0 L506.0,221.1 L506.6,222.2 L507.2,223.3 L507.8,224.4 L508.4,225.5 L509.0,226.6 L509.6,227.6 L510.2,228.7 L510.8,229.7 L511.5,230.7 L512.1,231.7 L512.7,232.6 L513.3,233.6 L513.9,234.5 L514.5,235.5 L515.1,236.4 L515.7,237.3 L516.3,238.1 L516.9,239.0 L517.5,239.9 L518.1,240.7 L518.7,241.5 L519.3,242.3 L519.9,243.1 L520.5,243.9 L521.1,244.6 L521.7,245.4 L522.3,246.1 L522.9,246.8 L523.5,247.5 L524.1,248.2 L524.7,248.9 L525.3,249.5 L525.9,250.2 L526.5,250.8 L527.1,251.4 L527.7,252.0 L528.3,252.6 L528.9,253.2 L529.5,253.8 L530.1,254.3 L530.7,254.8 L531.3,255.4 L531.9,255.9 L532.5,256.4 L533.1,256.9 L533.7,257.4 L534.3,257.9 L534.9,258.3 L535.5,258.8 L536.1,259.2 L536.7,259.7 L537.4,260.1 L538.0,260.5 L538.6,260.9 L539.2,261.3 L539.8,261.7 L540.4,262.1 L541.0,262.5 L541.6,262.8 L542.2,263.2 L542.8,263.5 L543.4,263.9 L544.0,264.2 L544.6,264.5 L545.2,264.8 L545.8,265.1 L546.4,265.4 L547.0,265.7 L547.6,266.0 L548.2,266.3 L548.8,266.6 L549.4,266.9 L550.0,267.1" fill="none" stroke="#ff0000" stroke-width="1.35" stroke-dasharray="4.45 1.6" stroke-linejoin="round"/>
<path d="M433.6,20.3 L433.8,20.7 L434.0,21.2 L434.2,21.7 L434.4,22.1 L434.6,22.6 L434.8,23.0 L435.0,23.5 L435.2,23.9 L435.4,24.4 L435.6,24.8 L435.8,25.3 L436.0,25.8 L436.2,26.2 L436.4,26.7 L436.5,27.1 L436.7,27.6 L436.9,28.0 L437.1,28.5 L437.3,29.0 L437.5,29.4 L437.7,29.9 L437.9,30.3 L438.1,30.8 L438.3,31.2 L438.4,31.7 L438.6,32.2 L438.8,32.6 L439.0,33.1 L439.2,33.5 L439.4,34.0 L439.6,34.5 L439.7,34.9 L439.9,35.4 L440.1,35.8 L440.3,36.3 L440.5,36.8 L440.7,37.2 L440.8,37.7 L441.0,38.1 L441.2,38.6 L441.4,39.1 L441.6,39.5 L441.8,40.0 L441.9,40.4 L442.1,40.9 L442.3,41.4 L442.5,41.8 L442.7,42.3 L442.8,42.7 L443.0,43.2 L443.2,43.7 L443.4,44.1 L443.6,44.6 L443.7,45.1 L443.9,45.5 L444.1,46.0 L444.3,46.4 L444.4,46.9 L444.6,47.4 L444.8,47.8 L445.0,48.3 L445.1,48.8 L445.3,49.2 L445.5,49.7 L445.7,50.1 L445.8,50.6 L446.0,51.1 L446.2,51.5 L446.4,52.0 L446.5,52.5 L446.7,52.9 L446.9,53.4 L447.1,53.9 L447.2,54.3 L447.4,54.8 L447.6,55.2 L447.8,55.7 L447.9,56.2 L448.1,56.6 L448.3,57.1 L448.4,57.6 L448.6,58.0 L448.8,58.5 L448.9,59.0 L449.1,59.4 L449.3,59.9 L449.5,60.4 L449.6,60.8 L449.8,61.3 L450.0,61.8 L450.1,62.2 L450.3,62.7 L450.5,63.2 L450.6,63.6 L450.8,64.1 L451.0,64.6 L451.1,65.0 L451.3,65.5 L451.5,66.0 L451.6,66.4 L451.8,66.9 L452.0,67.4 L452.1,67.8 L452.3,68.3 L452.5,68.8 L452.6,69.2 L452.8,69.7 L453.0,70.2 L453.1,70.6 L453.3,71.1 L453.5,71.6 L453.6,72.0 L453.8,72.5 L454.0,73.0 L454.1,73.4 L454.3,73.9 L454.5,74.4 L454.6,74.8 L454.8,75.3 L454.9,75.8 L455.1,76.2 L455.3,76.7 L455.4,77.2 L455.6,77.6 L455.8,78.1 L455.9,78.6 L456.1,79.0 L456.3,79.5 L456.4,80.0 L456.6,80.4 L456.7,80.9 L456.9,81.4 L457.1,81.8 L457.2,82.3 L457.4,82.8 L457.5,83.3 L457.7,83.7 L457.9,84.2 L458.0,84.7 L458.2,85.1 L458.4,85.6 L458.5,86.1 L458.7,86.5 L458.8,87.0 L459.0,87.5 L459.2,87.9 L459.3,88.4 L459.5,88.9 L459.6,89.3 L459.8,89.8 L460.0,90.3 L460.1,90.7 L460.3,91.2 L460.4,91.7 L460.6,92.2 L460.8,92.6 L460.9,93.1 L461.1,93.6 L461.2,94.0 L461.4,94.5 L461.6,95.0 L461.7,95.4 L461.9,95.9 L462.0,96.4 L462.2,96.8 L462.4,97.3 L462.5,97.8 L462.7,98.3 L462.8,98.7 L463.0,99.2 L463.2,99.7 L463.3,100.1 L463.5,100.6 L463.6,101.1 L463.8,101.5 L464.0,102.0 L464.1,102.5 L464.3,102.9 L464.4,103.4 L464.6,103.9 L464.8,104.3 L464.9,104.8 L465.1,105.3 L465.2,105.8 L465.4,106.2 L465.6,106.7 L465.7,107.2 L465.9,107.6 L466.0,108.1 L466.2,108.6 L466.4,109.0 L466.5,109.5 L466.7,110.0 L466.8,110.4 L467.0,110.9 L467.2,111.4 L467.3,111.8 L467.5,112.3 L467.6,112.8" fill="none" stroke="#ff8000" stroke-width="1.35" stroke-dasharray="4.45 1.6" stroke-linejoin="round"/>
<path d="M351.0,278.0 L351.5,277.9 L351.9,277.9 L352.4,277.9 L352.8,277.8 L353.3,277.8 L353.8,277.7 L354.2,277.6 L354.7,277.6 L355.1,277.5 L355.6,277.4 L356.1,277.3 L356.5,277.1 L357.0,277.0 L357.4,276.9 L357.9,276.7 L358.4,276.5 L358.8,276.3 L359.3,276.1 L359.7,275.9 L360.2,275.6 L360.6,275.3 L361.1,275.0 L361.6,274.7 L362.0,274.4 L362.5,274.0 L362.9,273.6 L363.4,273.2 L363.9,272.8 L364.3,272.3 L364.8,271.8 L365.2,271.3 L365.7,270.7 L366.2,270.1 L366.6,269.5 L367.1,268.9 L367.5,268.2 L368.0,267.5 L368.5,266.7 L368.9,265.9 L369.4,265.1 L369.8,264.3 L370.3,263.4 L370.8,262.4 L371.2,261.4 L371.7,260.4 L372.1,259.4 L372.6,258.2 L373.1,257.1 L373.5,255.9 L374.0,254.6 L374.4,253.3 L374.9,252.0 L375.4,250.6 L375.8,249.2 L376.3,247.7 L376.7,246.2 L377.2,244.6 L377.6,243.0 L378.1,241.4 L378.6,239.7 L379.0,237.9 L379.5,236.2 L379.9,234.3 L380.4,232.5 L380.9,230.6 L381.3,228.7 L381.8,226.8 L382.2,224.9 L382.7,222.9 L383.2,220.9 L383.6,218.9 L384.1,216.9 L384.5,214.9 L385.0,212.9 L385.5,210.9 L385.9,208.9 L386.4,206.9 L386.8,204.9 L387.3,202.9 L387.8,200.8 L388.2,198.8 L388.7,196.8 L389.1,194.7 L389.6,192.7 L390.1,190.6 L390.5,188.6 L391.0,186.5 L391.4,184.5 L391.9,182.4 L392.4,180.3 L392.8,178.2 L393.3,176.1 L393.7,174.0 L394.2,171.9 L394.6,169.7 L395.1,167.6 L395.6,165.5 L396.0,163.4 L396.5,161.2 L396.9,159.1 L397.4,157.0 L397.9,154.8 L398.3,152.7 L398.8,150.6 L399.2,148.4 L399.7,146.3 L400.2,144.2 L400.6,142.1 L401.1,140.0 L401.5,137.9 L402.0,135.9 L402.5,133.8 L402.9,131.7 L403.4,129.7 L403.8,127.7 L404.3,125.7 L404.8,123.7 L405.2,121.7 L405.7,119.8 L406.1,117.8 L406.6,115.9 L407.1,114.0 L407.5,112.2 L408.0,110.3 L408.4,108.5 L408.9,106.7 L409.4,105.0 L409.8,103.2 L410.3,101.5 L410.7,99.8 L411.2,98.1 L411.6,96.5 L412.1,94.9 L412.6,93.3 L413.0,91.8 L413.5,90.2 L413.9,88.7 L414.4,87.3 L414.9,85.9 L415.3,84.5 L415.8,83.1 L416.2,81.7 L416.7,80.4 L417.2,79.2 L417.6,77.9 L418.1,76.7 L418.5,75.5 L419.0,74.4 L419.5,73.3 L419.9,72.2 L420.4,71.2 L420.8,70.2 L421.3,69.2 L421.8,68.2 L422.2,67.3 L422.7,66.4 L423.1,65.6 L423.6,64.8 L424.1,64.0 L424.5,63.3 L425.0,62.5 L425.4,61.9 L425.9,61.2 L426.4,60.6 L426.8,60.0 L427.3,59.5 L427.7,59.0 L428.2,58.5 L428.6,58.0 L429.1,57.6 L429.6,57.2 L430.0,56.9 L430.5,56.6 L430.9,56.3 L431.4,56.0 L431.9,55.8 L432.3,55.6 L432.8,55.4 L433.2,55.3 L433.7,55.2 L434.2,55.1 L434.6,55.0 L435.1,55.0 L435.5,55.0 L436.0,55.1 L436.5,55.2 L436.9,55.3 L437.4,55.4 L437.8,55.6 L438.3,55.7 L438.8,56.0 L439.2,56.2 L439.7,56.5 L440.1,56.8 L440.6,57.1 L441.1,57.4 L441.5,57.8 L442.0,58.2 L442.4,58.6 L442.9,59.1 L443.4,59.6 L443.8,60.1 L444.3,60.6 L444.7,61.2 L445.2,61.8 L445.6,62.4 L446.1,63.0 L446.6,63.6 L447.0,64.3 L447.5,65.0 L447.9,65.7 L448.4,66.5 L448.9,67.3 L449.3,68.1 L449.8,68.9 L450.2,69.7 L450.7,70.6 L451.2,71.4 L451.6,72.3 L452.1,73.3 L452.5,74.2 L453.0,75.2 L453.5,76.2 L453.9,77.2 L454.4,78.2 L454.8,79.2 L455.3,80.3 L455.8,81.4 L456.2,82.5 L456.7,83.6 L457.1,84.8 L457.6,85.9 L458.1,87.1 L458.5,88.3 L459.0,89.5 L459.4,90.7 L459.9,91.9 L460.4,93.2 L460.8,94.5 L461.3,95.8 L461.7,97.0 L462.2,98.4 L462.6,99.7 L463.1,101.0 L463.6,102.3 L464.0,103.7 L464.5,105.1 L464.9,106.4 L465.4,107.8 L465.9,109.2 L466.3,110.6 L466.8,112.0 L467.2,113.4 L467.7,114.8 L468.2,116.2 L468.6,117.6 L469.1,119.0 L469.5,120.4 L470.0,121.9" fill="none" stroke="#b00000" stroke-width="1.35" stroke-dasharray="4.45 1.6" stroke-linejoin="round"/>
<path d="M328.3,269.8 L329.3,269.2 L330.3,268.6 L331.4,267.9 L332.4,267.2 L333.4,266.5 L334.5,265.7 L335.5,265.0 L336.5,264.1 L337.5,263.3 L338.6,262.4 L339.6,261.5 L340.6,260.5 L341.6,259.5 L342.6,258.5 L343.7,257.4 L344.7,256.3 L345.7,255.1 L346.7,253.9 L347.7,252.6 L348.7,251.3 L349.8,250.0 L350.8,248.6 L351.8,247.1 L352.8,245.7 L353.8,244.1 L354.8,242.5 L355.8,240.9 L356.8,239.2 L357.8,237.4 L358.8,235.6 L359.7,233.8 L360.7,231.9 L361.7,229.9 L362.7,227.9 L363.7,225.8 L364.7,223.7 L365.7,221.6 L366.7,219.3 L367.7,217.1 L368.7,214.7 L369.7,212.4 L370.7,209.9 L371.7,207.4 L372.7,204.9 L373.6,202.3 L374.6,199.7 L375.6,197.0 L376.6,194.3 L377.6,191.5 L378.6,188.7 L379.6,185.8 L380.6,182.9 L381.6,180.0 L382.6,177.0 L383.6,174.0 L384.6,171.0 L385.6,167.9 L386.6,164.8 L387.6,161.7 L388.6,158.5 L389.6,155.4 L390.5,152.2 L391.5,149.0 L392.5,145.8 L393.5,142.6 L394.5,139.3 L395.5,136.1 L396.5,132.9 L397.5,129.7 L398.5,126.5 L399.5,123.3 L400.5,120.2 L401.5,117.0 L402.5,113.9 L403.4,110.9 L404.4,107.8 L405.4,104.8 L406.4,101.8 L407.3,98.9 L408.3,96.1 L409.3,93.3 L410.3,90.5 L411.2,87.8 L412.2,85.2 L413.2,82.7 L414.1,80.2 L415.1,77.9 L416.1,75.6 L417.0,73.4 L418.0,71.3 L419.0,69.3 L419.9,67.4 L420.9,65.6 L421.8,63.9 L422.8,62.3 L423.7,60.8 L424.7,59.5 L425.6,58.2 L426.5,57.1 L427.5,56.1 L428.4,55.2 L429.3,54.5 L430.2,53.9 L431.1,53.4 L432.1,53.0 L433.0,52.8 L433.9,52.7 L434.8,52.7 L435.8,52.8 L436.8,53.0 L437.8,53.4 L438.8,53.9 L439.9,54.6 L440.9,55.4 L442.0,56.3 L443.1,57.4 L444.1,58.6 L445.2,59.9 L446.2,61.4 L447.2,63.0 L448.2,64.7 L449.2,66.5 L450.2,68.5 L451.2,70.5 L452.2,72.6 L453.2,74.8 L454.2,77.1 L455.2,79.4 L456.2,81.8 L457.2,84.3 L458.2,86.9 L459.2,89.5 L460.2,92.1 L461.2,94.9 L462.2,97.6 L463.2,100.4 L464.2,103.2 L465.2,106.1 L466.2,108.9 L467.2,111.8 L468.2,114.8 L469.2,117.7 L470.2,120.7 L471.2,123.6 L472.2,126.6 L473.2,129.6 L474.2,132.5 L475.2,135.5 L476.2,138.5 L477.2,141.5 L478.2,144.4 L479.2,147.4 L480.2,150.3 L481.2,153.2 L482.2,156.2 L483.1,159.1 L484.1,161.9 L485.1,164.8 L486.1,167.7 L487.1,170.5 L488.1,173.3 L489.1,176.1 L490.1,178.9 L491.1,181.7 L492.1,184.4 L493.1,187.1 L494.1,189.8 L495.1,192.4 L496.1,195.0 L497.1,197.6 L498.1,200.1 L499.1,202.6 L500.1,205.0 L501.1,207.3 L502.1,209.6 L503.1,211.9 L504.1,214.1 L505.1,216.2 L506.1,218.3 L507.0,220.3 L508.0,222.3 L509.0,224.2 L510.0,226.0 L511.0,227.8 L512.0,229.6 L513.0,231.3 L514.0,232.9 L515.0,234.5 L516.0,236.0 L517.0,237.5 L518.0,239.0 L519.0,240.4 L520.0,241.7 L520.9,243.0 L521.9,244.3 L522.9,245.5 L523.9,246.7 L524.9,247.8 L525.9,248.9 L526.9,250.0 L527.9,251.0 L528.8,252.0 L529.8,253.0 L530.8,253.9 L531.8,254.8 L532.8,255.7 L533.8,256.5 L534.8,257.3 L535.8,258.1 L536.7,258.8 L537.7,259.6 L538.7,260.3 L539.7,260.9 L540.7,261.6 L541.7,262.2 L542.7,262.8 L543.7,263.4 L544.6,263.9 L545.6,264.5 L546.6,265.0 L547.6,265.5 L548.6,266.0 L549.6,266.4 L550.6,266.9 L551.6,267.3 L552.6,267.7 L553.5,268.1 L554.5,268.5 L555.5,268.9 L556.5,269.2 L557.5,269.6 L558.5,269.9 L559.5,270.2 L560.5,270.5 L561.5,270.8 L562.5,271.1 L563.5,271.3 L564.5,271.6 L565.4,271.9 L566.4,272.1 L567.4,272.3 L568.4,272.5 L569.4,272.8 L570.4,273.0 L571.4,273.1 L572.4,273.3 L573.4,273.5 L574.4,273.7 L575.4,273.9 L576.4,274.0 L577.4,274.2 L578.4,274.3 L579.4,274.5 L580.4,274.6 L581.3,274.7 L582.3,274.9 L583.3,275.0 L584.3,275.1 L585.3,275.2" fill="none" stroke="#00ff00" stroke-width="1.7" stroke-linejoin="round"/>
<path d="M327.3,268.0 L328.3,267.5 L329.3,266.9 L330.3,266.2 L331.3,265.6 L332.3,264.9 L333.3,264.2 L334.3,263.4 L335.3,262.6 L336.3,261.8 L337.3,260.9 L338.3,260.0 L339.3,259.1 L340.2,258.1 L341.2,257.1 L342.2,256.1 L343.2,255.0 L344.2,253.8 L345.2,252.7 L346.2,251.4 L347.2,250.2 L348.2,248.8 L349.2,247.5 L350.2,246.1 L351.2,244.6 L352.2,243.1 L353.2,241.5 L354.2,239.9 L355.2,238.3 L356.2,236.5 L357.2,234.8 L358.2,232.9 L359.2,231.1 L360.2,229.1 L361.2,227.1 L362.2,225.1 L363.2,223.0 L364.2,220.9 L365.2,218.7 L366.1,216.4 L367.1,214.1 L368.1,211.7 L369.1,209.3 L370.1,206.8 L371.1,204.3 L372.1,201.7 L373.1,199.1 L374.1,196.5 L375.1,193.7 L376.1,191.0 L377.1,188.2 L378.1,185.3 L379.1,182.4 L380.1,179.5 L381.1,176.5 L382.1,173.5 L383.1,170.5 L384.1,167.4 L385.1,164.3 L386.1,161.2 L387.1,158.1 L388.1,154.9 L389.1,151.7 L390.1,148.5 L391.1,145.3 L392.0,142.1 L393.0,138.9 L394.0,135.7 L395.0,132.5 L396.0,129.3 L397.0,126.1 L398.0,122.9 L399.0,119.7 L400.0,116.6 L401.0,113.5 L402.0,110.4 L403.0,107.3 L404.0,104.3 L405.0,101.4 L406.0,98.5 L407.0,95.6 L408.0,92.8 L409.0,90.0 L410.0,87.4 L411.0,84.8 L412.0,82.2 L413.0,79.8 L414.0,77.4 L415.0,75.1 L416.0,72.9 L417.0,70.8 L417.9,68.7 L418.9,66.8 L419.9,65.0 L420.9,63.3 L421.9,61.7 L422.9,60.2 L423.9,58.9 L424.9,57.6 L425.9,56.5 L426.9,55.5 L427.9,54.7 L428.9,53.9 L429.9,53.3 L430.9,52.8 L431.9,52.5 L432.9,52.3 L433.9,52.2 L434.9,52.3 L435.9,52.4 L436.9,52.8 L437.9,53.2 L438.9,53.8 L439.9,54.6 L440.9,55.4 L441.9,56.4 L442.9,57.6 L443.8,58.8 L444.8,60.2 L445.8,61.6 L446.8,63.2 L447.8,64.9 L448.8,66.8 L449.8,68.7 L450.8,70.7 L451.8,72.8 L452.8,75.0 L453.8,77.2 L454.8,79.6 L455.8,82.0 L456.8,84.5 L457.8,87.0 L458.8,89.6 L459.8,92.3 L460.8,95.0 L461.8,97.8 L462.8,100.5 L463.8,103.4 L464.8,106.2 L465.8,109.1 L466.8,112.0 L467.8,114.9 L468.8,117.9 L469.7,120.8 L470.7,123.8 L471.7,126.7 L472.7,129.7 L473.7,132.7 L474.7,135.7 L475.7,138.6 L476.7,141.6 L477.7,144.6 L478.7,147.5 L479.7,150.5 L480.7,153.4 L481.7,156.3 L482.7,159.2 L483.7,162.1 L484.7,165.0 L485.7,167.8 L486.7,170.7 L487.7,173.5 L488.7,176.3 L489.7,179.1 L490.7,181.8 L491.7,184.6 L492.7,187.3 L493.7,189.9 L494.7,192.6 L495.6,195.2 L496.6,197.7 L497.6,200.3 L498.6,202.7 L499.6,205.2 L500.6,207.5 L501.6,209.8 L502.6,212.1 L503.6,214.3 L504.6,216.4 L505.6,218.5 L506.6,220.5 L507.6,222.5 L508.6,224.4 L509.6,226.3 L510.6,228.1 L511.6,229.8 L512.6,231.5 L513.6,233.2 L514.6,234.8 L515.6,236.3 L516.6,237.8 L517.6,239.2 L518.6,240.6 L519.6,242.0 L520.6,243.3 L521.5,244.6 L522.5,245.8 L523.5,247.0 L524.5,248.1 L525.5,249.3 L526.5,250.3 L527.5,251.4 L528.5,252.4 L529.5,253.3 L530.5,254.3 L531.5,255.1 L532.5,256.0 L533.5,256.9 L534.5,257.7 L535.5,258.4 L536.5,259.2 L537.5,259.9 L538.5,260.6 L539.5,261.3 L540.5,261.9 L541.5,262.5 L542.5,263.1 L543.5,263.7 L544.5,264.3 L545.5,264.8 L546.5,265.3 L547.4,265.8 L548.4,266.3 L549.4,266.8 L550.4,267.2 L551.4,267.6 L552.4,268.0 L553.4,268.4 L554.4,268.8 L555.4,269.2 L556.4,269.5 L557.4,269.9 L558.4,270.2 L559.4,270.5 L560.4,270.8 L561.4,271.1 L562.4,271.4 L563.4,271.6 L564.4,271.9 L565.4,272.1 L566.4,272.4 L567.4,272.6 L568.4,272.8 L569.4,273.0 L570.4,273.2 L571.4,273.4 L572.4,273.6 L573.3,273.8 L574.3,274.0 L575.3,274.1 L576.3,274.3 L577.3,274.4 L578.3,274.6 L579.3,274.7 L580.3,274.8 L581.3,275.0 L582.3,275.1 L583.3,275.2 L584.3,275.3 L585.3,275.4" fill="none" stroke="#000" stroke-width="1.7" stroke-linejoin="round"/>
</g>
<g class="t"><text x="29.9" y="295.7" text-anchor="middle">−0.7</text><text x="65.3" y="295.7" text-anchor="middle">−0.6</text><text x="100.6" y="295.7" text-anchor="middle">−0.5</text><text x="136.0" y="295.7" text-anchor="middle">−0.4</text><text x="171.3" y="295.7" text-anchor="middle">−0.3</text><text x="206.7" y="295.7" text-anchor="middle">−0.2</text><text x="242.0" y="295.7" text-anchor="middle">−0.1</text><text x="277.4" y="295.7" text-anchor="middle">0.0</text><text x="274.6" y="220.3" text-anchor="end">20</text><text x="274.6" y="154.2" text-anchor="end">25</text><text x="274.6" y="88.2" text-anchor="end">30</text><text x="274.6" y="22.1" text-anchor="end">35</text><text x="267.9" y="11.9">ln[v]</text><text x="283.2" y="286.6">Φ</text><text x="328.5" y="291.2" text-anchor="middle" letter-spacing="0.3">−0.60</text><text x="371.4" y="291.2" text-anchor="middle" letter-spacing="0.3">−0.55</text><text x="414.2" y="291.2" text-anchor="middle" letter-spacing="0.3">−0.50</text><text x="457.1" y="291.2" text-anchor="middle" letter-spacing="0.3">−0.45</text><text x="500.0" y="291.2" text-anchor="middle" letter-spacing="0.3">−0.40</text><text x="542.9" y="291.2" text-anchor="middle" letter-spacing="0.3">−0.35</text><text x="585.8" y="291.2" text-anchor="middle" letter-spacing="0.3">−0.30</text><text x="325.8" y="218.6" text-anchor="end">0.0001</text><text x="325.8" y="154.6" text-anchor="end">0.0002</text><text x="325.8" y="90.6" text-anchor="end">0.0003</text><text x="325.8" y="26.6" text-anchor="end">0.0004</text><text x="325.4" y="15.4" font-style="italic">ρ</text><text x="590.1" y="282.5">Φ</text></g>
<g class="lb"><text transform="translate(121.3,55.8) scale(0.78,1)" font-size="13.6px">Φ</text><text transform="translate(128.8,57.0) skewX(-10) scale(1.3,1)" font-style="italic" font-size="8.5px">f</text><text transform="translate(451.3,231.8) scale(0.78,1)" font-size="13.6px">Φ</text><text transform="translate(458.8,233.0) skewX(-10) scale(1.3,1)" font-style="italic" font-size="8.5px">f</text></g>
<g class="lg"><line x1="4.1" y1="315.5" x2="34.4" y2="315.5" stroke="#0000ff" stroke-width="1.4"/><text x="39.8" y="318.2">Class.</text><line x1="87.7" y1="315.5" x2="116" y2="315.5" stroke="#ff0000" stroke-width="1.4" stroke-dasharray="4.45 1.5"/><text x="123.2" y="318.2">3<tspan font-size="10.4px" dy="-4.6">rd</tspan><tspan dy="4.6" dx="0.5">order</tspan><tspan dx="5">ϵ</tspan></text><line x1="193" y1="315.5" x2="221.6" y2="315.5" stroke="#ff8000" stroke-width="1.4" stroke-dasharray="4.45 1.5"/><text x="229.1" y="318.2">5<tspan font-size="10.4px" dy="-4.6">th</tspan><tspan dy="4.6" dx="0.5">order</tspan><tspan dx="5">ϵ</tspan></text><line x1="297.7" y1="315.5" x2="326.2" y2="315.5" stroke="#b00000" stroke-width="1.4" stroke-dasharray="4.45 1.5"/><text x="333.9" y="318.2">7<tspan font-size="10.4px" dy="-4.6">th</tspan><tspan dy="4.6" dx="0.5">order</tspan><tspan dx="5">ϵ</tspan></text><line x1="398.9" y1="315.5" x2="429" y2="315.5" stroke="#00ff00" stroke-width="1.4"/><text x="434.6" y="318.2">Effective</text><line x1="501.3" y1="315.5" x2="531.3" y2="315.5" stroke="#000" stroke-width="1.4"/><text x="537" y="318.2">Num. Eval.</text></g>
</svg>
</body></html>
